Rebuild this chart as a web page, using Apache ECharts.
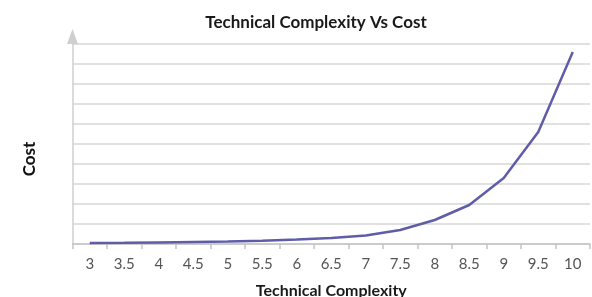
<!DOCTYPE html>
<html>
<head>
<meta charset="utf-8">
<script src="https://cdn.jsdelivr.net/npm/echarts@6/dist/echarts.min.js"></script>
<style>html,body{margin:0;padding:0;background:#fff;}#c{width:592px;height:297px;}</style>
</head>
<body>
<div id="c"></div>
<script>
var categories = ['3','3.5','4','4.5','5','5.5','6','6.5','7','7.5','8','8.5','9','9.5','10'];
var costValues = [0.05,0.06,0.08,0.1,0.12,0.16,0.22,0.3,0.42,0.7,1.2,1.95,3.3,5.6,9.6];
var titleText = 'Technical Complexity Vs Cost';
var xTitle = 'Technical Complexity';
var yTitle = 'Cost';

var chart = echarts.init(document.getElementById('c'), null, {renderer:'canvas'});
var FONT = 'Lato';
chart.setOption({
  animation: false,
  backgroundColor: '#ffffff',
  title: {
    text: titleText,
    left: 311, top: 9, textAlign: 'center',
    textStyle: {fontFamily: FONT, fontSize: 17, fontWeight: 'bold', color: '#1a1a1a'}
  },
  grid: {left: 72.5, right: 2, top: 44, bottom: 53, containLabel: false, outerBoundsMode: 'none'},
  xAxis: {
    type: 'category',
    data: categories,
    boundaryGap: true,
    name: xTitle,
    nameLocation: 'middle',
    nameGap: 39,
    nameTextStyle: {fontFamily: FONT, fontSize: 16, fontWeight: 'bold', color: '#1a1a1a'},
    axisLine: {lineStyle: {color: '#c4c4c4', width: 1.5}},
    axisTick: {show: true, length: 5, lineStyle: {color: '#c4c4c4', width: 1.5}},
    axisLabel: {fontFamily: FONT, fontSize: 15, color: '#555555', margin: 13},
    splitLine: {show: false}
  },
  yAxis: {
    type: 'value',
    min: 0, max: 10, interval: 1,
    name: yTitle,
    nameLocation: 'middle',
    nameGap: 34,
    nameRotate: 90,
    nameTextStyle: {fontFamily: FONT, fontSize: 17, fontWeight: 'bold', color: '#111111', padding: [0,30,0,0]},
    axisLine: {show: true, lineStyle: {color: '#cfcfcf', width: 1.5}, symbol: ['none','triangle'], symbolSize: [11,15], symbolOffset: [0,7.5]},
    axisTick: {show: false},
    axisLabel: {show: false},
    splitLine: {show: true, lineStyle: {color: '#d6d6d6', width: 1.5}}
  },
  series: [{
    type: 'line',
    data: costValues,
    showSymbol: false,
    symbol: 'none',
    smooth: false,
    lineStyle: {color: '#5f5ca8', width: 2.5}
  }]
});
</script>
</body>
</html>
